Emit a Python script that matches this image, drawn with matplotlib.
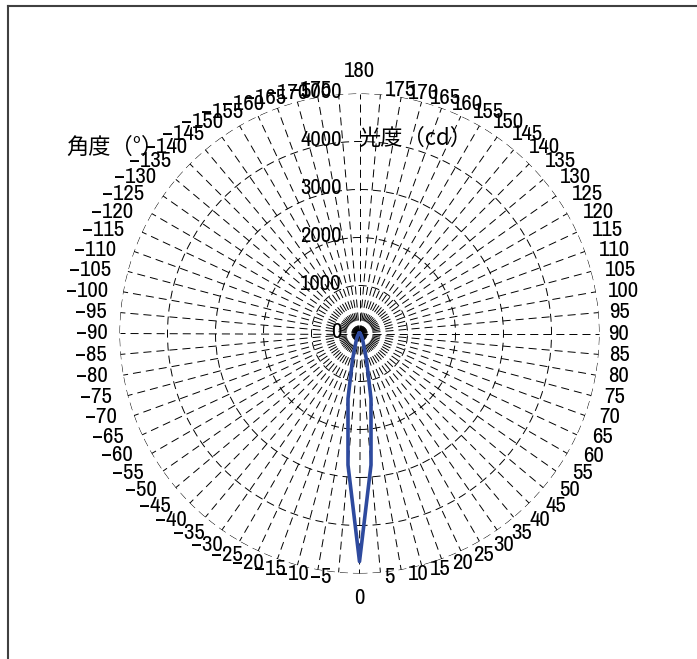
import numpy as np
import matplotlib
matplotlib.use("Agg")
import matplotlib.pyplot as plt
from matplotlib.lines import Line2D
from matplotlib import font_manager as fm

plt.rcParams['font.family'] = ['Noto Sans CJK JP', 'DejaVu Sans']
plt.rcParams['lines.scale_dashes'] = False

# pick a narrow face for the numbers when one is installed
num_family = ['Noto Sans CJK JP', 'DejaVu Sans']
num_stretch = 'normal'
num_size = 14
for f in fm.fontManager.ttflist:
    if 'Narrow' in f.name or 'Condensed' in f.name:
        num_family = [f.name, 'DejaVu Sans']
        num_size = 16.5
        break
else:
    for f in fm.fontManager.ttflist:
        if f.stretch == 'condensed':
            num_family = [f.name, 'DejaVu Sans']
            num_stretch = 'condensed'
            num_size = 16
            break

# luminous intensity distribution (cd) every 5 degrees, -175 .. 180
angles = np.arange(-175, 181, 5)
intensity = [
    10, 10, 10, 10, 10, 10, 10, 10, 10, 10, 10, 10,        # -175 .. -120
    10, 10, 10, 10, 10, 10, 10, 10, 10, 10, 10,            # -115 .. -65
    20, 25, 35, 45, 60, 80, 110, 160, 250, 560, 1380,      # -60 .. -10
    2750, 4750, 2750,                                      # -5, 0, 5
    1380, 560, 250, 160, 110, 80, 60, 45, 35, 25, 20,      # 10 .. 60
    10, 10, 10, 10, 10, 10, 10, 10, 10, 10, 10, 10,        # 65 .. 120
    10, 10, 10, 10, 10, 10, 10, 10, 10, 10, 10, 10,        # 125 .. 180
]
angle_labels = [str(a).replace('-', '\u2212') for a in angles]
r_ticks = [0, 1000, 2000, 3000, 4000, 5000]
r_max = 5000

fig = plt.figure(figsize=(6.97, 6.59), dpi=100)
ax = fig.add_axes([119.5 / 697, 85.5 / 659, 480 / 697, 480 / 659], projection='polar')
ax.set_theta_zero_location('S')
ax.set_theta_direction(1)

dash = (0, (5.8, 3.6))
ax.set_xticks(np.deg2rad(angles % 360))
ax.set_xticklabels([])
ax.set_yticks(r_ticks[1:])
ax.set_yticklabels([])
ax.xaxis.grid(True, color='black', lw=0.7, linestyle=dash)
ax.yaxis.grid(True, color='black', lw=0.7, linestyle=dash)
ax.spines['polar'].set_visible(False)
ax.tick_params(length=0)

th = np.deg2rad(np.append(angles, angles[0]))
rr = np.append(intensity, intensity[0])
ax.plot(th, rr, color='#2E4A9E', lw=2.6, solid_joinstyle='round', zorder=5)
ax.set_xlim(0, 2 * np.pi)
ax.set_ylim(0, r_max)

num_kw = dict(fontsize=num_size, family=num_family, fontstretch=num_stretch)

# radial labels, right-aligned next to the vertical spoke
for v in r_ticks:
    ax.annotate(str(v), xy=(np.pi, v), xytext=(-18, 1), textcoords='offset pixels',
                ha='right', va='center', annotation_clip=False, **num_kw)

# angle labels: set beside the rim point, level with it
for a, lab in zip(angles, angle_labels):
    rad = np.deg2rad(a)
    ux, uy = np.sin(rad), -np.cos(rad)
    if a == 0:
        off, ha = (0, -25), 'center'
    elif a == 180:
        off, ha = (0, 22.5), 'center'
    else:
        hx = 5 + 7 * abs(ux) + 9 * abs(np.sin(2 * rad))
        if ux > 0:
            off, ha = (hx - 3, 4 * uy), 'left'
        else:
            off, ha = (-hx, 4 * uy), 'right'
    ax.annotate(lab, xy=(rad % (2 * np.pi), r_max), xytext=off,
                textcoords='offset pixels', ha=ha, va='center',
                annotation_clip=False, **num_kw)

ax.annotate('光度（cd）', xy=(np.pi, 4000), xytext=(-1.5, 3), textcoords='offset pixels',
            ha='left', va='center', fontsize=16, annotation_clip=False)
fig.text(66 / 697, 1 - 147 / 659, '角度（°）', ha='left', va='center', fontsize=16)

# frame around the chart area
x0, y0 = 7.5 / 697, 1 - 5.5 / 659
fig.add_artist(Line2D([x0, 1.0], [y0, y0], color='#404040', lw=1.5, transform=fig.transFigure))
fig.add_artist(Line2D([x0, x0], [0.0, y0], color='#404040', lw=1.5, transform=fig.transFigure))

fig.savefig('out.png', dpi=100)
